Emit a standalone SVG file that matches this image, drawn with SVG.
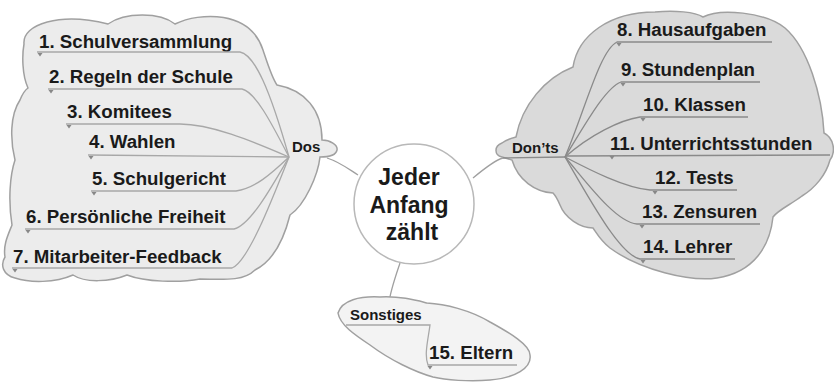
<svg xmlns="http://www.w3.org/2000/svg" width="834" height="382" viewBox="0 0 834 382">
<style>
.t{font-family:"Liberation Sans",Arial,sans-serif;font-weight:bold;fill:#1a1a1a;font-size:18.7px}
.b{font-family:"Liberation Sans",Arial,sans-serif;font-weight:bold;fill:#1a1a1a;font-size:15px}
.c{font-family:"Liberation Sans",Arial,sans-serif;font-weight:bold;fill:#1a1a1a;font-size:23px;text-anchor:middle}
.ll{fill:none;stroke:#a8a8a8;stroke-width:1.3}
.rl{fill:none;stroke:#8a8a8a;stroke-width:1.3}
.cn{fill:none;stroke:#a0a0a0;stroke-width:1.3}
.cloud{stroke:#a0a0a0;stroke-width:1.5}
.mk{fill:#888}
</style>
<defs>
<path id="tri" d="M-2.5,0 L2.5,0 L0,3.5 Z"/>
</defs>
<g id="connectors">
<path class="cn" d="M327,158 C340,162 350,170 358,175"/>
<path class="cn" d="M473,178 C485,168 495,160 503,158"/>
<path class="cn" d="M400,263 C395,278 390,292 389,303"/>
</g>
<g id="dos">
<path class="cloud" fill="#ececec" d="M24,44 C22,24 60,12 108,24 C125,12 160,12 175,24 C200,12 250,10 263,50 C268,65 272,78 277,85 C305,90 322,110 322,140 C330,140 338,145 337,150 C336,155 328,157 320,157 C318,175 305,205 290,215 C285,235 275,260 255,270 C245,280 230,280 200,279 C180,283 145,282 127,275 C110,282 85,283 73,275 C55,283 30,283 15,278 C3,275 0,265 5,257 C3,245 8,235 12,225 C8,200 10,175 15,160 C10,140 10,115 20,100 C22,95 25,90 28,88 C22,75 22,55 24,44 Z"/>
<text class="b" x="292" y="152">Dos</text>
</g>
<g id="n1">
<text class="t" x="39" y="47.5">1. Schulversammlung</text>
<path class="ll" d="M37,52 L240,52 C255,55 270,90 289,157"/>
<use href="#tri" class="mk" x="40" y="53"/>
</g>
<g id="n2">
<text class="t" x="49" y="83">2. Regeln der Schule</text>
<path class="ll" d="M48,89 L242,89 C255,92 270,120 289,157"/>
<use href="#tri" class="mk" x="51" y="90"/>
</g>
<g id="n3">
<text class="t" x="67" y="118">3. Komitees</text>
<path class="ll" d="M66,124 L180,124 C210,124 250,140 289,157"/>
<use href="#tri" class="mk" x="69" y="125"/>
</g>
<g id="n4">
<text class="t" x="89" y="148">4. Wahlen</text>
<path class="ll" d="M88,155 L289,157"/>
<use href="#tri" class="mk" x="91" y="156"/>
</g>
<g id="n5">
<text class="t" x="92" y="185">5. Schulgericht</text>
<path class="ll" d="M91,191 L236,191 C255,188 270,175 289,157"/>
<use href="#tri" class="mk" x="94" y="192"/>
</g>
<g id="n6">
<text class="t" x="26" y="223">6. Persönliche Freiheit</text>
<path class="ll" d="M25,229 L234,229 C250,225 270,190 289,157"/>
<use href="#tri" class="mk" x="28" y="230"/>
</g>
<g id="n7">
<text class="t" x="13" y="263">7. Mitarbeiter-Feedback</text>
<path class="ll" d="M12,268 L232,268 C248,262 272,200 289,157"/>
<use href="#tri" class="mk" x="15" y="269"/>
</g>
<g id="center">
<circle cx="414" cy="204" r="60" fill="#ffffff" stroke="#b8b8b8" stroke-width="1.5"/>
<text class="c" x="409" y="185">Jeder</text>
<text class="c" x="409" y="213">Anfang</text>
<text class="c" x="412" y="240">zählt</text>
</g>
<g id="donts">
<path class="cloud" fill="#dadada" d="M502,157 C494,155 494,146 502,143 C506,140 512,138 516,137 C522,105 545,78 573,67 C578,35 610,12 655,12 C675,10 695,12 703,17 C720,8 765,12 785,28 C808,48 822,95 824,133 C834,138 836,152 830,160 C826,175 815,188 802,196 C790,205 778,210 773,217 C770,245 755,272 717,278 C690,282 640,270 610,248 C600,240 596,232 593,228 C580,228 565,218 560,205 C557,198 555,195 553,193 C535,192 518,180 512,160 Z"/>
<text class="b" x="512" y="153">Don’ts</text>
<path class="rl" d="M503,158 L565,157"/>
</g>
<g id="n8">
<text class="t" x="617" y="36">8. Hausaufgaben</text>
<path class="rl" d="M565,157 C585,110 600,50 617,42 L772,42"/>
<use href="#tri" class="mk" x="619" y="43"/>
</g>
<g id="n9">
<text class="t" x="621" y="76">9. Stundenplan</text>
<path class="rl" d="M565,157 C585,125 605,88 621,82 L760,82"/>
<use href="#tri" class="mk" x="623" y="83"/>
</g>
<g id="n10">
<text class="t" x="643" y="111">10. Klassen</text>
<path class="rl" d="M565,157 C590,135 620,120 640,117 L748,117"/>
<use href="#tri" class="mk" x="643" y="118"/>
</g>
<g id="n11">
<text class="t" x="610" y="150">11. Unterrichtsstunden</text>
<path class="rl" d="M565,156 L830,155"/>
<use href="#tri" class="mk" x="612" y="156"/>
</g>
<g id="n12">
<text class="t" x="655" y="184">12. Tests</text>
<path class="rl" d="M565,157 C590,170 625,188 650,190 L737,190"/>
<use href="#tri" class="mk" x="655" y="191"/>
</g>
<g id="n13">
<text class="t" x="642" y="218">13. Zensuren</text>
<path class="rl" d="M565,157 C585,180 615,222 637,224 L760,224"/>
<use href="#tri" class="mk" x="642" y="225"/>
</g>
<g id="n14">
<text class="t" x="643" y="253">14. Lehrer</text>
<path class="rl" d="M565,157 C590,200 620,255 640,259 L735,259"/>
<use href="#tri" class="mk" x="643" y="260"/>
</g>
<g id="sonstiges">
<path class="cloud" fill="#f3f3f3" d="M338,313 C342,300 360,296 380,297 C400,296 415,300 427,303 C445,304 470,310 490,322 C510,333 530,345 530,355 C532,368 515,378 490,380 C470,382 445,380 433,377 C415,372 390,360 370,345 C355,335 340,325 338,313 Z"/>
<text class="b" x="350" y="320">Sonstiges</text>
</g>
<g id="n15">
<text class="t" x="429" y="359">15. Eltern</text>
<path class="ll" d="M346,325 L430,325 C428,340 424,355 428,365 L517,365"/>
<use href="#tri" class="mk" x="430" y="366"/>
</g>
</svg>
